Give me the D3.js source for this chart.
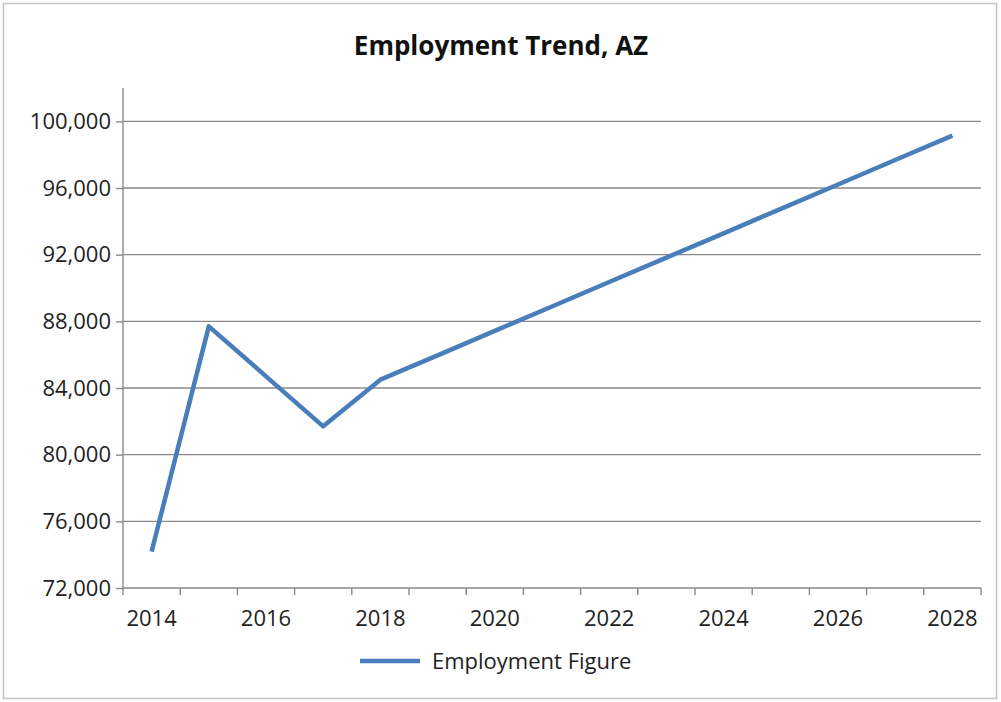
<!DOCTYPE html>
<html>
<head>
<meta charset="utf-8">
<script src="https://cdn.jsdelivr.net/npm/d3@7"></script>
<style>
  html, body { margin: 0; padding: 0; background: #fff; }
  svg { display: block; font-family: "Open Sans", sans-serif; }
</style>
</head>
<body>
<div id="chart"></div>
<script>
// Employment Trend, AZ
const YEARS  = [2014, 2015, 2016, 2017, 2018, 2019, 2020, 2021, 2022, 2023, 2024, 2025, 2026, 2027, 2028];
const VALUES = [74180, 87700, 84700, 81700, 84500, 85960, 87430, 88890, 90360, 91820, 93280, 94750, 96210, 97680, 99140];
const Y_TICKS = [72000, 76000, 80000, 84000, 88000, 92000, 96000, 100000];
const X_LABELS = [2014, 2016, 2018, 2020, 2022, 2024, 2026, 2028];
const TITLE = 'Employment Trend, AZ';
const SERIES_NAME = 'Employment Figure';

const W = 1001, H = 702;
const plot = { left: 123, right: 981, top: 88, bottom: 588 };
const LINE_COLOR = '#4a7ebb';
const GRID_COLOR = '#8a8a8a';

const svg = d3.select('#chart').append('svg')
  .attr('width', W).attr('height', H);

// outer frame
svg.append('rect')
  .attr('x', 3.5).attr('y', 3.5)
  .attr('width', 993).attr('height', 695)
  .attr('fill', '#fff').attr('stroke', '#c4c4c4').attr('stroke-width', 1.5);

const x = d3.scaleBand().domain(YEARS).range([plot.left, plot.right]);
const y = d3.scaleLinear().domain([72000, 102000]).range([plot.bottom, plot.top]);

// title
svg.append('text')
  .attr('x', 501).attr('y', 55)
  .attr('text-anchor', 'middle')
  .attr('font-size', 26).attr('font-weight', 700)
  .attr('fill', '#111')
  .text(TITLE);

// gridlines
svg.append('g').selectAll('line').data(Y_TICKS.filter(d => d > 72000)).enter().append('line')
  .attr('x1', plot.left).attr('x2', plot.right)
  .attr('y1', d => y(d)).attr('y2', d => y(d))
  .attr('stroke', GRID_COLOR).attr('stroke-width', 1.4);

// y axis
const yAxis = svg.append('g')
  .attr('transform', `translate(${plot.left},0)`)
  .call(d3.axisLeft(y).tickValues(Y_TICKS).tickFormat(d3.format(',')).tickSize(7).tickPadding(5));
yAxis.select('.domain').attr('stroke', GRID_COLOR).attr('stroke-width', 1.4)
  .attr('d', `M0,${plot.top}V${plot.bottom}`);
yAxis.selectAll('.tick line').attr('stroke', GRID_COLOR).attr('stroke-width', 1.4);
yAxis.selectAll('.tick text').attr('font-size', 22).attr('fill', '#222')
  .attr('font-family', '"Open Sans", sans-serif');

// x axis: category ticks at band boundaries, labels every other year
const xg = svg.append('g').attr('transform', `translate(0,${plot.bottom})`);
xg.append('line')
  .attr('x1', plot.left).attr('x2', plot.right)
  .attr('stroke', GRID_COLOR).attr('stroke-width', 1.4);
const bounds = YEARS.map(d => x(d)).concat([x(YEARS[YEARS.length - 1]) + x.bandwidth()]);
xg.selectAll('line.tk').data(bounds).enter().append('line')
  .attr('class', 'tk')
  .attr('x1', d => d).attr('x2', d => d)
  .attr('y1', 0).attr('y2', 7)
  .attr('stroke', GRID_COLOR).attr('stroke-width', 1.4);
xg.selectAll('text').data(X_LABELS).enter().append('text')
  .attr('x', d => x(d) + x.bandwidth() / 2)
  .attr('y', 38)
  .attr('text-anchor', 'middle')
  .attr('font-size', 22).attr('fill', '#222')
  .text(d => d);

// series line
const line = d3.line()
  .x((d, i) => x(YEARS[i]) + x.bandwidth() / 2)
  .y(d => y(d));
svg.append('path')
  .datum(VALUES)
  .attr('d', line)
  .attr('fill', 'none')
  .attr('stroke', LINE_COLOR)
  .attr('stroke-width', 4.5)
  .attr('stroke-linejoin', 'round');

// legend
const lg = svg.append('g').attr('transform', 'translate(360,661)');
lg.append('line')
  .attr('x1', 0).attr('x2', 60)
  .attr('stroke', LINE_COLOR).attr('stroke-width', 4.5);
lg.append('text')
  .attr('x', 72).attr('y', 8)
  .attr('font-size', 22).attr('fill', '#222')
  .text(SERIES_NAME);
</script>
</body>
</html>
